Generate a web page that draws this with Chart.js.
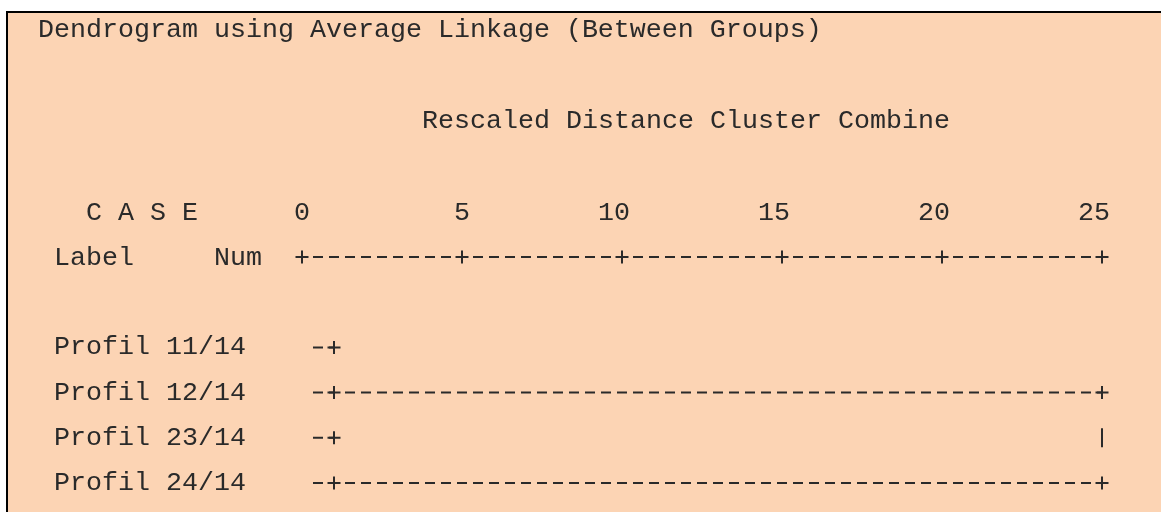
<!DOCTYPE html>
<html><head><meta charset="utf-8">
<script src="https://cdn.jsdelivr.net/npm/chart.js@4.4.1/dist/chart.umd.min.js"></script>
<style>
html,body{margin:0;padding:0;background:#fff;}
#wrap{position:relative;width:1161px;height:512px;overflow:hidden;}
#frame{position:absolute;left:6px;top:11px;right:0;bottom:0;background:#FCD4B4;border-left:2px solid #000;border-top:2px solid #000;}
#c{position:absolute;left:0;top:0;}
</style></head><body>
<div id="wrap"><div id="frame"></div><canvas id="c" width="1161" height="512"></canvas></div>
<script>
const titleText = 'Dendrogram using Average Linkage (Between Groups)';
const axisTitle = 'Rescaled Distance Cluster Combine';
const caseHeader = 'C A S E';
const labelHeader = 'Label     Num';
const caseLabels = ['Profil 11/14', 'Profil 12/14', 'Profil 23/14', 'Profil 24/14'];
const tickValues = [0, 5, 10, 15, 20, 25];
// node ids 0..3 are the cases; each merge k creates node 4+k
const mergeLeft = [0, 2, 4];
const mergeRight = [1, 3, 5];
const mergeDistance = [1, 1, 25];

const INK = '#2a2a2a';
const FONT_FAMILY = '"Liberation Mono", "Courier New", monospace';
const FONT_SIZE = 26.67;
const AXIS_ROW = -2;

// build tree
const nCases = caseLabels.length;
const height = [], rep = [], parent = [];
for (let i = 0; i < nCases; i++) { height[i] = 0; rep[i] = i; }
mergeLeft.forEach((a, k) => {
  const id = nCases + k, b = mergeRight[k];
  height[id] = mergeDistance[k];
  rep[id] = rep[b];
  parent[a] = id; parent[b] = id;
});

const dashStyle = { borderColor: INK, borderWidth: 2, borderDash: [10, 6], borderDashOffset: 13,
  showLine: true, pointRadius: 0, clip: false, fill: false };
const datasets = [];
// axis rule  +---------+---...
datasets.push(Object.assign({ data: [{ x: tickValues[0] - 0.25, y: AXIS_ROW }, { x: tickValues[tickValues.length - 1], y: AXIS_ROW }] }, dashStyle));
// branches
for (let id = 0; id < height.length; id++) {
  if (parent[id] === undefined) continue;
  const start = (id < nCases ? 0.5 : height[id] + 0.5) - 0.25;
  const end = height[parent[id]];
  datasets.push(Object.assign({ data: [{ x: start, y: rep[id] }, { x: end, y: rep[id] }] }, dashStyle));
}
// plus signs
const plusPts = tickValues.map(v => ({ x: v, y: AXIS_ROW }));
const barPts = [];
mergeLeft.forEach((a, k) => {
  const b = mergeRight[k], h = mergeDistance[k];
  plusPts.push({ x: h, y: rep[a] }, { x: h, y: rep[b] });
  const lo = Math.min(rep[a], rep[b]), hi = Math.max(rep[a], rep[b]);
  for (let r = lo + 1; r < hi; r++) barPts.push({ x: h, y: r });
});
datasets.push({ data: plusPts, showLine: false, pointStyle: 'cross', pointRadius: 6.5,
  pointBorderColor: INK, pointBorderWidth: 2, clip: false });
datasets.push({ data: barPts, showLine: false, pointStyle: 'line', pointRotation: 90, pointRadius: 9.5,
  pointBorderColor: INK, pointBorderWidth: 2, clip: false });

const headerPlugin = {
  id: 'header',
  afterDraw(chart) {
    const xs = chart.scales.x, ys = chart.scales.y, ctx = chart.ctx;
    const colW = xs.getPixelForValue(0.5) - xs.getPixelForValue(0);
    const zeroCol = 16;
    const colLeft = c => xs.getPixelForValue(0) - colW / 2 - (zeroCol - c) * colW;
    const rowH = ys.getPixelForValue(1) - ys.getPixelForValue(0);
    const base = ys.getPixelForValue(AXIS_ROW) + 8;
    ctx.save();
    ctx.fillStyle = INK;
    ctx.font = FONT_SIZE + 'px ' + FONT_FAMILY;
    ctx.textBaseline = 'alphabetic';
    ctx.textAlign = 'left';
    ctx.fillText(titleText, colLeft(0), base - rowH * 5 - 2);
    ctx.fillText(axisTitle, colLeft(24), base - rowH * 3 - 1);
    ctx.fillText(caseHeader, colLeft(3), base - rowH);
    ctx.fillText(labelHeader, colLeft(1), base);
    ctx.restore();
  }
};

new Chart(document.getElementById('c'), {
  type: 'scatter',
  data: { datasets },
  plugins: [headerPlugin],
  options: {
    responsive: false, animation: false, events: [],
    layout: { padding: { left: 54, right: 59, top: 0, bottom: 29 } },
    plugins: { legend: { display: false }, tooltip: { enabled: false } },
    scales: {
      x: {
        type: 'linear', position: 'top', min: 0, max: 25,
        afterBuildTicks: s => { s.ticks = tickValues.map(v => ({ value: v })); },
        afterFit: s => { s.height = 257; },
        grid: { display: false, drawTicks: false }, border: { display: false },
        ticks: {
          autoSkip: false, maxRotation: 0, padding: 28, color: INK,
          font: { family: FONT_FAMILY, size: FONT_SIZE },
          callback: v => String(v) + ' '.repeat(String(v).length - 1)
        }
      },
      y: {
        type: 'linear', reverse: true, min: AXIS_ROW, max: caseLabels.length - 1,
        afterBuildTicks: s => { s.ticks = caseLabels.map((_, i) => ({ value: i })); },
        afterFit: s => { s.width = 248; },
        grid: { display: false, drawTicks: false }, border: { display: false },
        ticks: {
          autoSkip: false, crossAlign: 'far', color: INK,
          font: { family: FONT_FAMILY, size: FONT_SIZE },
          callback: v => caseLabels[v] ?? ''
        }
      }
    }
  }
});
</script>
</body></html>
